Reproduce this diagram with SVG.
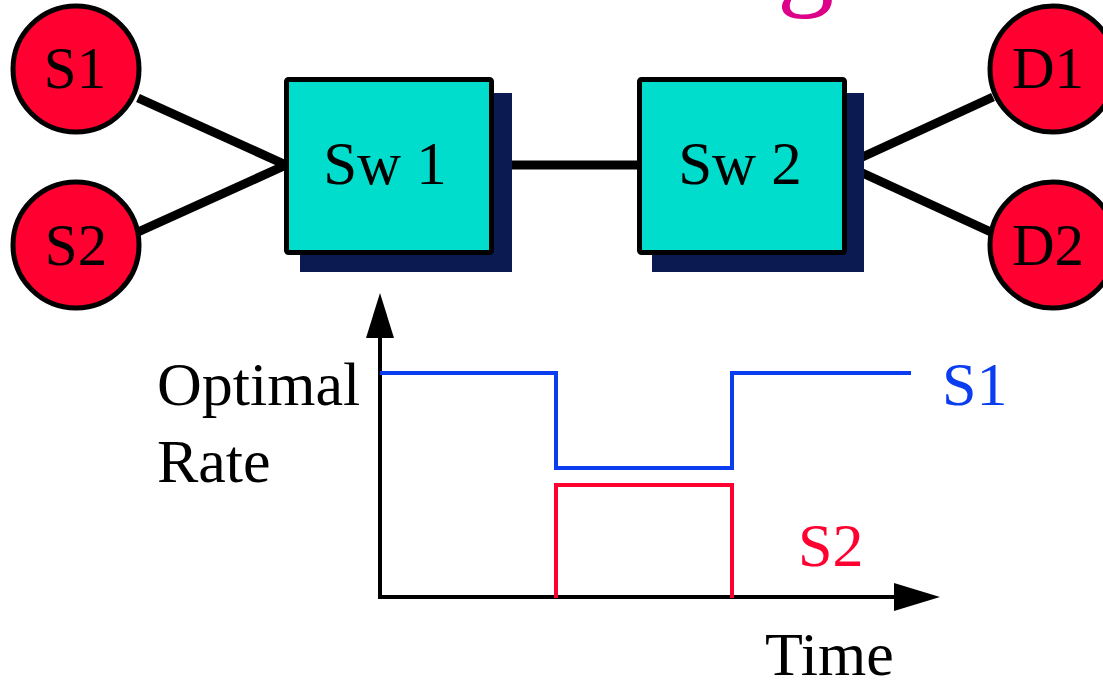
<svg xmlns="http://www.w3.org/2000/svg" width="1103" height="680" viewBox="0 0 1103 680">
<style>
.t{font-family:"Liberation Serif","Times New Roman",serif;}
.node{fill:#FF0030;stroke:#000;stroke-width:5;}
.sw{fill:#00DDCC;stroke:#000;stroke-width:5;}
.shadow{fill:#0B1B52;}
.link{stroke:#000;stroke-width:9;fill:none;}
.axis{stroke:#000;stroke-width:4;fill:none;}
.lbl{font-size:59px;fill:#000;}
</style>
<rect width="1103" height="680" fill="#fff"/>
<text class="t" x="777" y="-5" font-size="114" fill="#DD0088">g</text>
<g id="connectors">
<line class="link" x1="138" y1="98" x2="286" y2="165"/>
<line class="link" x1="138" y1="232" x2="286" y2="165"/>
<line class="link" x1="492" y1="165" x2="639" y2="165"/>
<line class="link" x1="845" y1="165" x2="993" y2="97"/>
<line class="link" x1="845" y1="165" x2="993" y2="233"/>
</g>
<g id="sw1">
<rect class="shadow" x="300" y="93" width="212" height="179"/>
<rect class="sw" x="286.5" y="79.5" width="205" height="173" rx="2"/>
<text class="t" x="385" y="184" font-size="61" text-anchor="middle">Sw 1</text>
</g>
<g id="sw2">
<rect class="shadow" x="652" y="93" width="212" height="179"/>
<rect class="sw" x="639.5" y="79.5" width="205" height="173" rx="2"/>
<text class="t" x="740" y="184" font-size="61" text-anchor="middle">Sw 2</text>
</g>
<g id="s1">
<circle class="node" cx="76" cy="69" r="63"/>
<text class="t lbl" x="75" y="88" text-anchor="middle">S1</text>
</g>
<g id="s2">
<circle class="node" cx="76" cy="245" r="63"/>
<text class="t lbl" x="76" y="265" text-anchor="middle">S2</text>
</g>
<g id="d1">
<circle class="node" cx="1053" cy="69" r="63"/>
<text class="t lbl" x="1048" y="88" text-anchor="middle">D1</text>
</g>
<g id="d2">
<circle class="node" cx="1053" cy="245" r="63"/>
<text class="t lbl" x="1048" y="265" text-anchor="middle">D2</text>
</g>
<g id="chart">
<polyline class="axis" points="380,336 380,597 896,597"/>
<polygon points="380,293 366,338 394,338" fill="#000"/>
<polygon points="940,597 894,583 894,611" fill="#000"/>
<polyline points="380,373 556,373 556,468 732,468 732,373 911,373" fill="none" stroke="#0A3CF0" stroke-width="4"/>
<polyline points="556,598 556,485 732,485 732,598" fill="none" stroke="#FF0030" stroke-width="4"/>
<text class="t" x="157" y="405" font-size="62">Optimal</text>
<text class="t" x="157" y="482" font-size="62">Rate</text>
<text class="t" x="942" y="405" font-size="62" fill="#0A3CF0">S1</text>
<text class="t" x="798" y="566" font-size="62" fill="#FF0030">S2</text>
<text class="t" x="765" y="675" font-size="62">Time</text>
</g>
</svg>
